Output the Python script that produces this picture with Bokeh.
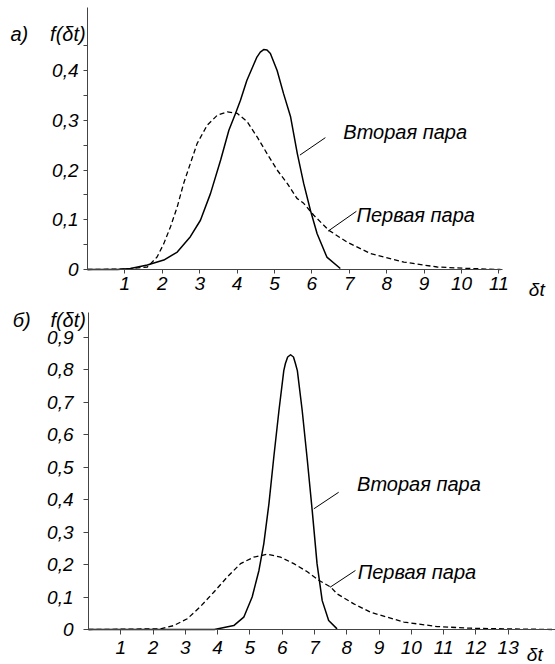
from bokeh.plotting import figure
from bokeh.models import FixedTicker, CustomJSTickFormatter, Label, Range1d
from bokeh.layouts import column
from bokeh.embed import file_html
from bokeh.resources import INLINE

# ---------- panel а) ----------
a_second_x = [0.0, 0.8, 1.15, 1.60, 2.04, 2.40, 2.75, 3.02, 3.29, 3.56, 3.78, 3.96, 4.09,
              4.26, 4.53, 4.62, 4.71, 4.80, 4.89, 5.07, 5.24, 5.43, 5.61, 5.78, 5.96, 6.14, 6.40, 6.76]
a_second_y = [0.0, 0.0, 0.002, 0.009, 0.019, 0.035, 0.066, 0.099, 0.153, 0.220, 0.280, 0.314, 0.340,
              0.380, 0.427, 0.437, 0.442, 0.441, 0.434, 0.400, 0.354, 0.307, 0.233, 0.173, 0.119, 0.072, 0.025, 0.002]

a_first_x = [0.0, 1.0, 1.60, 1.86, 2.04, 2.22, 2.40, 2.57, 2.75, 2.93, 3.20, 3.47, 3.74, 4.00,
             4.27, 4.54, 4.80, 5.07, 5.34, 5.60, 5.78, 6.05, 6.45, 6.94, 7.57, 8.46, 9.35, 10.24, 11.04]
a_first_y = [0.0, 0.001, 0.005, 0.025, 0.052, 0.086, 0.126, 0.173, 0.213, 0.253, 0.290, 0.310, 0.317, 0.314,
             0.297, 0.266, 0.233, 0.200, 0.173, 0.143, 0.133, 0.109, 0.079, 0.055, 0.032, 0.015, 0.005, 0.002, 0.0]

a_xticks = [1, 2, 3, 4, 5, 6, 7, 8, 9, 10, 11]
a_yticks = [0, 0.1, 0.2, 0.3, 0.4]
a_yminor = [0.05, 0.15, 0.25, 0.35, 0.45]

# ---------- panel б) ----------
b_second_x = [0.0, 3.9, 4.09, 4.50, 4.81, 5.07, 5.28, 5.43, 5.59, 5.74, 5.90, 6.05, 6.10, 6.17, 6.26,
              6.35, 6.41, 6.47, 6.62, 6.78, 6.93, 7.08, 7.24, 7.44, 7.70]
b_second_y = [0.0, 0.0, 0.004, 0.012, 0.038, 0.100, 0.182, 0.264, 0.388, 0.531, 0.675, 0.798, 0.820, 0.840, 0.847,
              0.840, 0.820, 0.798, 0.675, 0.521, 0.367, 0.203, 0.089, 0.028, 0.002]

b_first_x = [0.0, 2.23, 2.64, 3.06, 3.47, 3.88, 4.30, 4.71, 5.12, 5.54, 5.95, 6.36, 6.78, 7.13,
             7.50, 7.70, 8.22, 8.74, 9.77, 10.80, 11.83, 12.87, 14.4]
b_first_y = [0.0, 0.002, 0.012, 0.033, 0.071, 0.115, 0.162, 0.203, 0.223, 0.232, 0.223, 0.203, 0.178, 0.152,
             0.131, 0.110, 0.079, 0.053, 0.023, 0.009, 0.004, 0.002, 0.0]

b_xticks = [1, 2, 3, 4, 5, 6, 7, 8, 9, 10, 11, 12, 13]
b_yticks = [0, 0.1, 0.2, 0.3, 0.4, 0.5, 0.6, 0.7, 0.8, 0.9]

label_second = "Вторая пара"
label_first = "Первая пара"
axis_name = "δt"
func_name = "f(δt)"

FONT = "Liberation Sans"
fmt = CustomJSTickFormatter(code="return tick == 0 ? '0' : tick.toFixed(1).replace('.', ',');")


def style(p, xticks, yticks, yminor, xbounds, ybounds, x_tick_out, y_tick_out, x_standoff, y_standoff):
    p.outline_line_color = None
    p.xgrid.visible = False
    p.ygrid.visible = False
    p.background_fill_color = "white"
    p.border_fill_color = "white"
    for ax in (p.xaxis[0], p.yaxis[0]):
        ax.fixed_location = 0
        ax.axis_line_color = "#444444"
        ax.axis_line_width = 1
        ax.major_tick_line_color = "#444444"
        ax.minor_tick_line_color = "#444444"
        ax.major_tick_in = 0
        ax.minor_tick_in = 0
        ax.major_label_text_font = FONT
        ax.major_label_text_font_style = "italic"
        ax.major_label_text_font_size = "19px"
        ax.major_label_text_color = "black"
    xa = p.xaxis[0]
    xa.ticker = FixedTicker(ticks=xticks)
    xa.bounds = xbounds
    xa.major_tick_out = x_tick_out
    xa.minor_tick_out = 0
    xa.minor_tick_line_color = None
    xa.major_label_standoff = x_standoff
    ya = p.yaxis[0]
    ya.ticker = FixedTicker(ticks=yticks, minor_ticks=yminor)
    ya.formatter = fmt
    ya.bounds = ybounds
    ya.major_tick_out = y_tick_out
    ya.minor_tick_out = y_tick_out
    ya.major_label_standoff = y_standoff
    if not yminor:
        ya.minor_tick_line_color = None


def text(p, x, y, s, size="20px"):
    p.add_layout(Label(x=x, y=y, text=s, text_font=FONT, text_font_style="italic",
                       text_font_size=size, text_color="black",
                       text_align="left", text_baseline="alphabetic"))


# ---------- top figure (frame covers the whole canvas; axes fixed at 0) ----------
p1 = figure(width=555, height=300, x_range=Range1d(-2.326, 12.513), y_range=Range1d(-0.0623, 0.5407),
            output_backend="svg", toolbar_location=None,
            min_border_left=0, min_border_right=0, min_border_top=0, min_border_bottom=0)
style(p1, a_xticks, a_yticks, a_yminor, (0, 11.1), (0, 0.5266), 4, 4, 3, 5)
p1.line(a_second_x, a_second_y, line_color="black", line_width=1.5, line_join="round")
p1.line(a_first_x, a_first_y, line_color="black", line_width=1.3, line_dash="5 3", line_join="round")
p1.segment(x0=[5.68], y0=[0.230], x1=[6.36], y1=[0.265], line_color="black", line_width=1)
p1.segment(x0=[6.43], y0=[0.077], x1=[7.19], y1=[0.117], line_color="black", line_width=1)
text(p1, 6.84, 0.277, label_second)
text(p1, 7.19, 0.109, label_first)
text(p1, 11.80, -0.041, axis_name, "19px")
text(p1, -2.06, 0.474, "а)", "20px")
text(p1, -1.0, 0.474, func_name, "20px")

# ---------- bottom figure ----------
p2 = figure(width=555, height=364, x_range=Range1d(-2.726, 14.467), y_range=Range1d(-0.1079, 1.0142),
            output_backend="svg", toolbar_location=None,
            min_border_left=0, min_border_right=0, min_border_top=0, min_border_bottom=0)
style(p2, b_xticks, b_yticks, [], (0, 14.467), (0, 0.977), 5, 5, 7, 10)
p2.line(b_second_x, b_second_y, line_color="black", line_width=1.5, line_join="round")
p2.line(b_first_x, b_first_y, line_color="black", line_width=1.3, line_dash="5 3", line_join="round")
p2.segment(x0=[6.98], y0=[0.372], x1=[7.75], y1=[0.423], line_color="black", line_width=1)
p2.segment(x0=[7.48], y0=[0.130], x1=[8.27], y1=[0.182], line_color="black", line_width=1)
text(p2, 8.32, 0.449, label_second)
text(p2, 8.34, 0.177, label_first)
text(p2, 13.58, -0.078, axis_name, "19px")
text(p2, -2.35, 0.953, "б)", "20px")
text(p2, -1.18, 0.953, func_name, "20px")

layout = column(p1, p2, spacing=0)
open("out.html", "w").write(file_html(layout, INLINE))
